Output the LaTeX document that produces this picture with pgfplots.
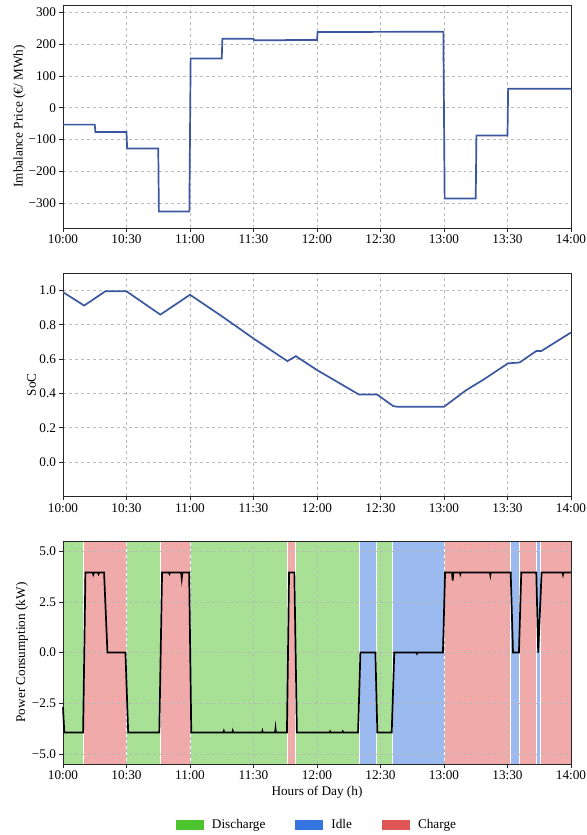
\documentclass[border=0pt]{standalone}
\usepackage{fontspec}
\setmainfont{Liberation Serif}
\usepackage{pgfplots}
\pgfplotsset{compat=1.18}

\definecolor{lineblue}{RGB}{59,87,160}
\definecolor{dis}{RGB}{76,196,46}
\definecolor{idl}{RGB}{53,117,224}
\definecolor{chg}{RGB}{224,85,85}
\definecolor{disbg}{RGB}{168,224,150}
\definecolor{idlbg}{RGB}{154,186,240}
\definecolor{chgbg}{RGB}{240,170,170}

\pgfplotsset{
  panel/.style={
    width=508bp, height=223bp, scale only axis,
    font=\fontsize{13.3}{16}\selectfont,
    xmin=0, xmax=240,
    xtick={0,30,...,240},
    xticklabels={10:00,10:30,11:00,11:30,12:00,12:30,13:00,13:30,14:00},
    xtick pos=bottom, ytick pos=left,
    tick align=outside, major tick length=3.5bp,
    grid=major,
    grid style={dashed, gray!55, line width=0.6bp},
    axis line style={black!85, line width=0.8bp},
    tick style={black!85, line width=0.6bp},
    /pgf/number format/assume math mode=true,
  },
  span/.style={draw=white, line width=1bp, forget plot},
}

\begin{document}
\begin{tikzpicture}[font=\fontsize{13.3}{16}\selectfont]
% imbalance price
\begin{axis}[panel, at={(0,0)}, anchor=north west,
  ymin=-378, ymax=323,
  ytick={-300,-200,-100,0,100,200,300},
  yticklabels={−300,−200,−100,0,100,200,300},
  ylabel={Imbalance Price (€/ MWh)},
  ylabel style={at={(axis description cs:-0.0856,0.5)}, anchor=center},
]
\addplot[lineblue, line width=1.7bp] coordinates {
(0,-53) (15,-53) (15.3,-76) (30,-76) (30.3,-128) (45,-128) (45.3,-326)
(59.7,-326) (60.3,155) (75,155) (75.3,217) (90,217) (90.3,212) (105,212)
(105.3,213) (120,213) (120.3,238) (179.7,239) (180.3,-285) (195,-285)
(195.3,-87) (210,-87) (210.3,60) (240,60)};
\end{axis}

% state of charge
\begin{axis}[panel, at={(0,-268.3bp)}, anchor=north west,
  ymin=-0.2, ymax=1.1,
  ytick={0,0.2,0.4,0.6,0.8,1.0},
  yticklabels={0.0,0.2,0.4,0.6,0.8,1.0},
  ylabel={SoC},
  ylabel style={at={(axis description cs:-0.062,0.5)}, anchor=center},
]
\addplot[lineblue, line width=1.7bp] coordinates {
(0,0.99) (10,0.912) (20,0.995) (30,0.995) (46,0.859) (60,0.975) (75,0.85)
(90,0.72) (106,0.588) (110,0.617) (120,0.536) (126,0.493) (139.7,0.394)
(148.3,0.394) (156,0.326) (158,0.322) (180,0.322) (190.5,0.419)
(198.4,0.478) (210.2,0.575) (215.7,0.58) (223.6,0.647) (226,0.647)
(240,0.755)};
\end{axis}

% power consumption
\begin{axis}[panel, at={(0,-536bp)}, anchor=north west,
  set layers, axis on top,
  ymin=-5.5, ymax=5.5,
  ytick={-5,-2.5,0,2.5,5},
  yticklabels={−5.0,−2.5,0.0,2.5,5.0},
  ylabel={Power Consumption (kW)},
  ylabel style={at={(axis description cs:-0.0807,0.5)}, anchor=center},
  xlabel={Hours of Day (h)},
  xlabel style={at={(axis description cs:0.5,-0.125)}, anchor=center},
  legend columns=3,
  legend style={at={(axis description cs:0.5,-0.273)}, anchor=center,
    draw=none, fill=none,
    /tikz/every even column/.append style={column sep=28bp}},
  legend image code/.code={\fill[#1, draw=none] (0bp,-5.3bp) rectangle (28bp,5.3bp);
    \path[draw=none, fill=none] (0bp,0bp) -- (34bp,0bp);},
]
\addplot[span, fill=disbg] coordinates {(0,-6) (9.65,-6) (9.65,6) (0,6)} -- cycle;
\addplot[span, fill=chgbg] coordinates {(9.65,-6) (30,-6) (30,6) (9.65,6)} -- cycle;
\addplot[span, fill=disbg] coordinates {(30,-6) (46,-6) (46,6) (30,6)} -- cycle;
\addplot[span, fill=chgbg] coordinates {(46,-6) (60,-6) (60,6) (46,6)} -- cycle;
\addplot[span, fill=disbg] coordinates {(60,-6) (106.1,-6) (106.1,6) (60,6)} -- cycle;
\addplot[span, fill=chgbg] coordinates {(106.1,-6) (109.7,-6) (109.7,6) (106.1,6)} -- cycle;
\addplot[span, fill=disbg] coordinates {(109.7,-6) (139.95,-6) (139.95,6) (109.7,6)} -- cycle;
\addplot[span, fill=idlbg] coordinates {(139.95,-6) (148,-6) (148,6) (139.95,6)} -- cycle;
\addplot[span, fill=disbg] coordinates {(148,-6) (155.8,-6) (155.8,6) (148,6)} -- cycle;
\addplot[span, fill=idlbg] coordinates {(155.8,-6) (180,-6) (180,6) (155.8,6)} -- cycle;
\addplot[span, fill=chgbg] coordinates {(180,-6) (211.6,-6) (211.6,6) (180,6)} -- cycle;
\addplot[span, fill=idlbg] coordinates {(211.6,-6) (215.75,-6) (215.75,6) (211.6,6)} -- cycle;
\addplot[span, fill=chgbg] coordinates {(215.75,-6) (223.7,-6) (223.7,6) (215.75,6)} -- cycle;
\addplot[span, fill=idlbg] coordinates {(223.7,-6) (225.8,-6) (225.8,6) (223.7,6)} -- cycle;
\addplot[span, fill=chgbg] coordinates {(225.8,-6) (240,-6) (240,6) (225.8,6)} -- cycle;

\addplot[black, line width=1.7bp, forget plot, on layer=axis foreground] coordinates {
(0,-2.7) (0.6,-3.95) (9.5,-3.95) (10.6,3.95) (14,3.95) (14.3,3.85) (14.6,3.95)
(16.5,3.95) (16.8,3.87) (17.1,3.95) (19.4,3.95) (21,0) (29.5,0) (30.8,-3.95)
(45.5,-3.95) (46.8,3.95) (50,3.95) (50.3,3.88) (50.6,3.95) (55.8,3.95)
(56.1,3.65) (56.4,3.95) (59.6,3.95) (60.6,-3.95) (75.8,-3.95) (76,-3.88)
(76.2,-3.95) (80,-3.95) (80.2,-3.87) (80.4,-3.95) (94,-3.95) (94.2,-3.87)
(94.4,-3.95) (100.2,-3.95) (100.4,-3.75) (100.6,-3.95) (105.8,-3.95)
(106.8,3.95) (109.3,3.95) (110.5,-3.95) (126,-3.95) (126.2,-3.9) (126.4,-3.95)
(132,-3.95) (132.2,-3.9) (132.4,-3.95) (139.4,-3.95) (140.5,0) (147.6,0)
(148.5,-3.95) (155.3,-3.95) (156.5,0) (167,0) (167.2,-0.05) (167.4,0) (179.5,0)
(180.5,3.95) (183.8,3.95) (184.1,3.55) (184.4,3.95) (187.5,3.95) (187.7,3.87)
(187.9,3.95) (201.7,3.95) (201.9,3.82) (202.1,3.95) (211.5,3.95) (212.6,0)
(215.4,0) (216.5,3.95) (223.6,3.95) (224.5,0) (226.1,3.95) (236,3.95)
(236.2,3.85) (236.4,3.95) (240,3.95)};

\addlegendimage{fill=dis}
\addlegendentry{Discharge}
\addlegendimage{fill=idl}
\addlegendentry{Idle}
\addlegendimage{fill=chg}
\addlegendentry{Charge}
\end{axis}

\pgfresetboundingbox
\path[use as bounding box] (-63bp,5bp) rectangle (524bp,-830bp);
\end{tikzpicture}
\end{document}
